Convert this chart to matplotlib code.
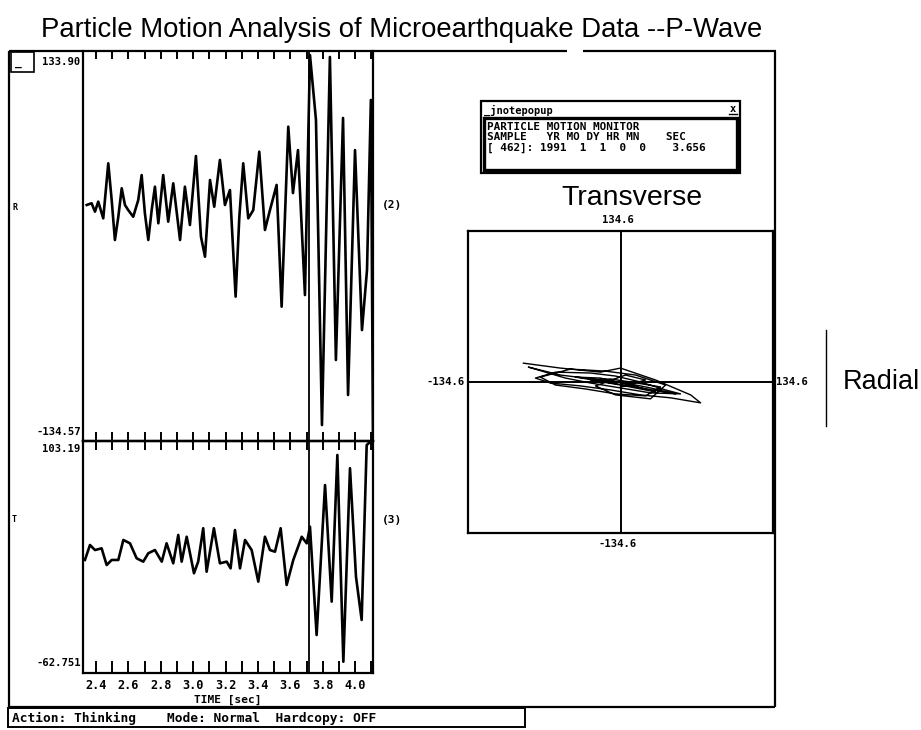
import matplotlib
matplotlib.use("Agg")
import matplotlib.pyplot as plt
from matplotlib.patches import Rectangle
from matplotlib.ticker import MultipleLocator, FixedLocator, FixedFormatter

# ---------------------------------------------------------------- data
# Radial component (channel 2), time in seconds
radial_t = [2.343, 2.373, 2.394, 2.414, 2.445, 2.476, 2.497, 2.517, 2.538, 2.559,
            2.579, 2.599, 2.630, 2.661, 2.682, 2.702, 2.723, 2.744, 2.764, 2.785,
            2.815, 2.846, 2.877, 2.919, 2.949, 2.980, 3.017, 3.048, 3.073, 3.104,
            3.130, 3.165, 3.196, 3.227, 3.262, 3.285, 3.309, 3.340, 3.371, 3.408,
            3.443, 3.474, 3.515, 3.546, 3.587, 3.616, 3.647, 3.690, 3.721, 3.758,
            3.795, 3.844, 3.881, 3.925, 3.956, 3.999, 4.042, 4.073, 4.097, 4.110]
radial_v = [27.9, 29.1, 23.3, 30.2, 18.7, 56.6, 31.3, 3.8, 19.8, 39.4,
            27.9, 24.4, 19.8, 31.3, 48.5, 22.2, 3.8, 24.4, 40.5, 15.3,
            48.5, 16.4, 42.8, 3.8, 40.5, 14.1, 61.6, 6.1, -7.7, 45.1,
            26.7, 58.9, 27.9, 38.2, -35.2, 19.8, 56.6, 18.7, 24.4, 64.6,
            10.7, 24.4, 41.7, -42.1, 81.8, 36.1, 65.7, -34.1, 131.1, 86.4,
            -123.6, 129.8, -78.8, 87.8, -102.9, 65.7, -58.2, -16.9, 100.2, -134.0]

# Transverse component (channel 3)
trans_t = [2.332, 2.363, 2.394, 2.435, 2.466, 2.497, 2.538, 2.569, 2.610, 2.651,
           2.692, 2.723, 2.764, 2.806, 2.836, 2.877, 2.908, 2.929, 2.960, 3.005,
           3.031, 3.062, 3.083, 3.128, 3.165, 3.207, 3.231, 3.258, 3.289, 3.320,
           3.361, 3.402, 3.443, 3.474, 3.505, 3.540, 3.577, 3.618, 3.670, 3.701,
           3.721, 3.762, 3.814, 3.855, 3.890, 3.927, 3.968, 4.005, 4.040, 4.071,
           4.098]
trans_v = [18.1, 28.8, 25.2, 26.4, 14.5, 18.1, 18.1, 32.4, 30.0, 19.3,
           16.9, 22.9, 25.2, 16.9, 30.0, 15.7, 36.0, 16.9, 34.7, 8.6,
           16.9, 40.8, 9.7, 40.8, 15.7, 16.9, 12.1, 39.5, 12.1, 32.4,
           25.2, 2.6, 34.7, 25.2, 24.0, 40.8, 0.2, 18.1, 34.7, 30.0,
           41.9, -35.6, 71.7, -11.7, 93.2, -54.7, 83.7, 6.1, -24.8, 100.3,
           103.19]

radial_lim = (-134.57, 133.90)
trans_lim = (-62.751, 103.19)
time_lim = (2.32, 4.11)
time_major = [2.4, 2.6, 2.8, 3.0, 3.2, 3.4, 3.6, 3.8, 4.0]
time_labels = ["2.4", "2.6", "2.8", "3.0", "3.2", "3.4", "3.6", "3.8", "4.0"]
cursor_time = 3.713

# Particle motion (radial vs transverse)
pm_lim = 134.6
pm_radial = [-85.7, -53.0, -17.7, 0.0, 30.9, 61.9, 70.7, 44.2, 17.7, -8.8,
             -35.3, -61.9, -75.1, -57.4, -26.5, -4.4, 17.7, 39.8, 53.0, 26.5,
             0.0, -26.5, -48.6, -66.3, -81.3, -53.0, -17.7, 4.4, 26.5, 48.6,
             17.7, -13.3, -39.8, -17.7, 8.8, 30.9, 0.0, -26.5, -8.8, 8.8,
             35.3, 22.1, -4.4, -30.9, -57.4, -70.7, -44.2, -13.3, 13.3, 39.8,
             26.5, -4.4, -22.1, 4.4, 22.1, 0.0]
pm_trans = [16.8, 12.4, 8.8, 12.4, 1.8, -11.5, -18.6, -14.1, -11.5, -7.1,
            -3.5, -0.9, 3.5, 8.8, 8.0, 5.3, 0.0, -7.1, -10.6, -9.7,
            -5.3, -0.9, 3.5, 8.8, 13.3, 6.2, 1.8, -0.9, -5.3, -10.6,
            -5.3, 0.0, 4.4, 3.5, -2.7, -8.8, -2.7, 1.8, 2.7, 0.0,
            -4.4, -12.4, -10.6, -6.2, -2.7, 4.4, 11.5, 9.7, 6.2, -2.7,
            -15.0, -11.5, -3.5, 6.2, 1.8, -4.4]

monitor_lines = ["PARTICLE MOTION MONITOR",
                 "SAMPLE   YR MO DY HR MN    SEC",
                 "[ 462]: 1991  1  1  0  0    3.656"]
status_text = "Action: Thinking    Mode: Normal  Hardcopy: OFF"

# ---------------------------------------------------------------- figure
W, H = 921, 730
fig = plt.figure(figsize=(W / 100, H / 100), dpi=100)
fig.patch.set_facecolor("white")

SANS = "Liberation Sans"
MONO = "DejaVu Sans Mono"
LW = 1.6


def px_axes(x0, y0, x1, y1):
    return fig.add_axes([x0 / W, 1 - y1 / H, (x1 - x0) / W, (y1 - y0) / H])


# pixel canvas for the window frame and annotations
bg = fig.add_axes([0, 0, 1, 1])
bg.set_xlim(0, W)
bg.set_ylim(H, 0)
bg.axis("off")

k = dict(color="black", lw=LW, solid_capstyle="butt")
bg.plot([9, 9], [51, 707], **k)
bg.plot([9, 567], [51, 51], **k)
bg.plot([583, 776], [51, 51], **k)
bg.plot([775, 775], [51, 707], **k)
bg.plot([9, 775], [707, 707], **k)
bg.plot([826, 826], [330, 426], color="black", lw=1.0)
bg.add_patch(Rectangle((11, 52), 23, 20, fill=False, lw=1.2, ec="black"))
bg.text(15, 68, "_", family=MONO, fontsize=8, weight="bold", va="bottom")

# status bar
bg.add_patch(Rectangle((8, 708), 517, 19, fill=False, lw=1.4, ec="black"))
bg.text(12, 718, status_text, family=MONO, fontsize=9.3, weight="bold",
        va="center", ha="left")

# title
bg.text(402, 30, "Particle Motion Analysis of Microearthquake Data --P-Wave",
        family=SANS, fontsize=19.8, ha="center", va="center")

# channel tags
bg.text(12, 208, "R", family=MONO, fontsize=6, weight="bold", va="center")
bg.text(12, 519, "T", family=MONO, fontsize=6, weight="bold", va="center")

# popup window with the monitor readout
bg.add_patch(Rectangle((481, 101), 259, 72, fill=False, lw=1.6, ec="black"))
bg.add_patch(Rectangle((484, 118), 253, 52, fill=False, lw=2.4, ec="black"))
bg.text(484, 110, "_jnotepopup", family=MONO, fontsize=7.5, weight="bold",
        va="center")
bg.text(733, 109, "x", family=MONO, fontsize=7.5, weight="bold", va="center",
        ha="center")
bg.plot([729, 737], [114, 114], color="black", lw=1.0)
for i, line in enumerate(monitor_lines):
    bg.text(487, 127 + 10.5 * i, line, family=MONO, fontsize=7.9,
            weight="bold", va="center")

# ---------------------------------------------------------------- traces
top = px_axes(83, 51, 373, 441)
bot = px_axes(83, 441, 373, 673)

for ax in (top, bot):
    ax.set_xlim(*time_lim)
    ax.set_facecolor("none")
    ax.set_yticks([])
    for s in ax.spines.values():
        s.set_linewidth(LW)
    ax.axvline(cursor_time, color="black", lw=1.3)

top.plot(radial_t, radial_v, color="black", lw=1.9, clip_on=True)
top.set_ylim(*radial_lim)
top.spines["top"].set_visible(False)
top.xaxis.tick_top()
top.xaxis.set_major_locator(MultipleLocator(0.1))
top.tick_params(axis="x", direction="in", length=6, width=1.4, labeltop=False)

bot.plot(trans_t, trans_v, color="black", lw=1.9, clip_on=True)
bot.set_ylim(*trans_lim)
bot.xaxis.set_major_locator(FixedLocator(time_major))
bot.xaxis.set_major_formatter(FixedFormatter(time_labels))
bot.xaxis.set_minor_locator(MultipleLocator(0.1))
bot.tick_params(axis="x", which="both", direction="in", length=9, width=1.4,
                pad=4)
for lab in bot.get_xticklabels():
    lab.set_family(MONO)
    lab.set_fontsize(8.6)
    lab.set_weight("bold")
mid = bot.secondary_xaxis("top")
mid.xaxis.set_major_locator(MultipleLocator(0.1))
mid.tick_params(axis="x", direction="inout", length=13, width=1.4,
                labeltop=False)
mid.spines["top"].set_linewidth(LW)
bot.set_xlabel("TIME [sec]", family=MONO, fontsize=8, weight="bold",
               labelpad=2)

# amplitude limits shown in the label column
mk = dict(family=MONO, fontsize=7.6, weight="bold", ha="right")
top.text(-0.008, 0.985, f"{radial_lim[1]:.2f}", transform=top.transAxes,
         va="top", **mk)
top.text(-0.008, 0.01, f"{radial_lim[0]:.2f}", transform=top.transAxes,
         va="bottom", **mk)
bot.text(-0.008, 0.985, f"{trans_lim[1]:.2f}", transform=bot.transAxes,
         va="top", **mk)
bot.text(-0.008, 0.02, f"{trans_lim[0]:.3f}", transform=bot.transAxes,
         va="bottom", **mk)
top.text(1.03, 0.605, "(2)", transform=top.transAxes, family=MONO,
         fontsize=8, weight="bold", va="center")
bot.text(1.03, 0.66, "(3)", transform=bot.transAxes, family=MONO,
         fontsize=8, weight="bold", va="center")

# ---------------------------------------------------------------- hodogram
pm = px_axes(468, 231, 773, 533)
pm.set_xlim(-pm_lim, pm_lim)
pm.set_ylim(-pm_lim, pm_lim)
pm.set_xticks([])
pm.set_yticks([])
for s in pm.spines.values():
    s.set_linewidth(LW)
pm.axhline(0, color="black", lw=1.4)
pm.axvline(0, color="black", lw=1.4)
pm.plot(pm_radial, pm_trans, color="black", lw=1.0)

lk = dict(family=MONO, fontsize=7.6, weight="bold")
pm.text(0.49, 1.02, f"{pm_lim:.1f}", transform=pm.transAxes, ha="center",
        va="bottom", **lk)
pm.text(0.49, -0.02, f"{-pm_lim:.1f}", transform=pm.transAxes, ha="center",
        va="top", **lk)
pm.text(-0.01, 0.5, f"{-pm_lim:.1f}", transform=pm.transAxes, ha="right",
        va="center", **lk)
pm.text(1.01, 0.5, f"{pm_lim:.1f}", transform=pm.transAxes, ha="left",
        va="center", **lk)
pm.text(0.537, 1.11, "Transverse", transform=pm.transAxes, ha="center",
        va="center", family=SANS, fontsize=20.5)
pm.text(1.228, 0.5, "Radial", transform=pm.transAxes, ha="left",
        va="center", family=SANS, fontsize=19.5)

fig.savefig("out.png", dpi=100)
